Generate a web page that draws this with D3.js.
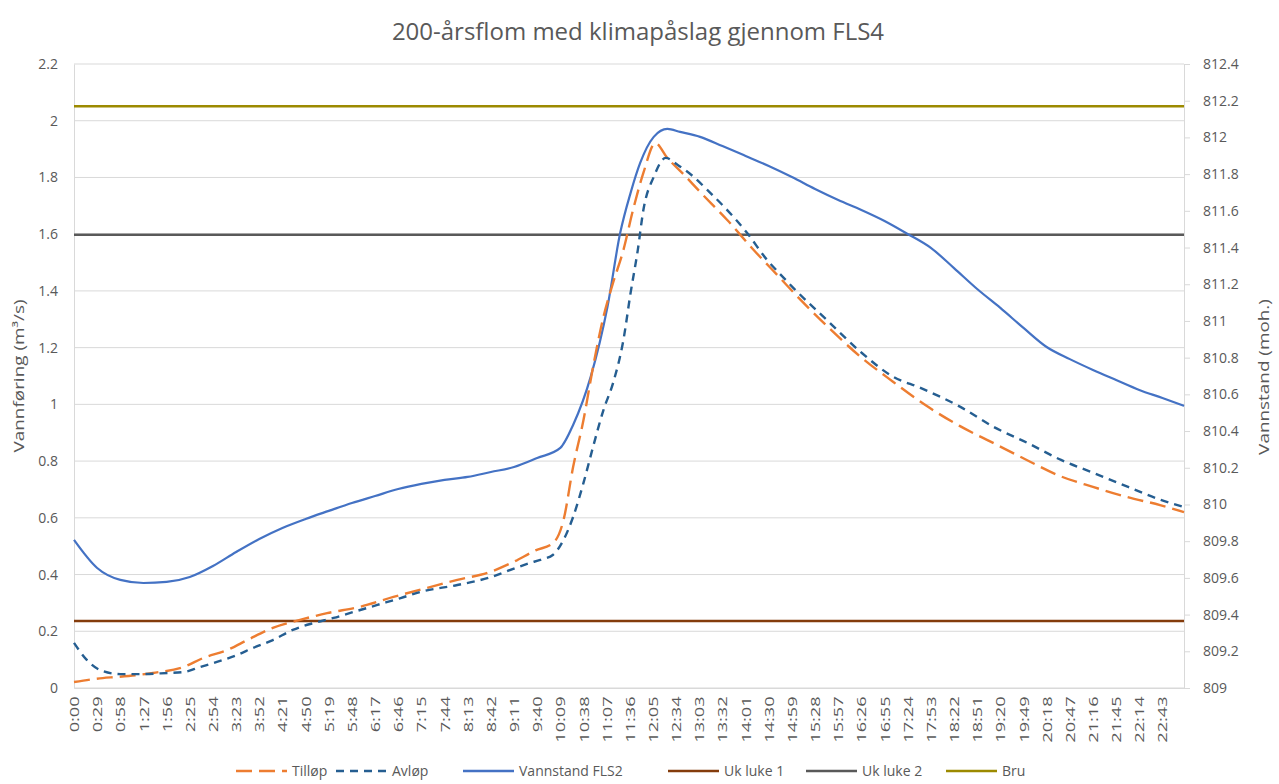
<!DOCTYPE html>
<html>
<head>
<meta charset="utf-8">
<script src="https://cdn.jsdelivr.net/npm/d3@7"></script>
<style>
  html, body { margin: 0; padding: 0; background: #fff; }
  svg { display: block; }
  text { font-family: "Open Sans", "Noto Sans", sans-serif; fill: #595959; }
</style>
</head>
<body>
<svg id="chart" width="1279" height="784"></svg>
<script>
// Time axis labels (every 29 minutes)
const tickLabels = ["0:00","0:29","0:58","1:27","1:56","2:25","2:54","3:23","3:52","4:21","4:50","5:19",
  "5:48","6:17","6:46","7:15","7:44","8:13","8:42","9:11","9:40","10:09","10:38","11:07","11:36",
  "12:05","12:34","13:03","13:32","14:01","14:30","14:59","15:28","15:57","16:26","16:55","17:24",
  "17:53","18:22","18:51","19:20","19:49","20:18","20:47","21:16","21:45","22:14","22:43"];
const timeEnd = 1390; // minutes after 0:00 at the last sample

// Tilløp (m³/s), minutes after 0:00
const tilopMin = [0,36,54,99,137,162,192,217,249,283,317,358,400,442,480,521,550,578,600,613,625,638,650,663,675,688,700,713,728,743,763,784,818,850,884,909,943,984,1026,1068,1109,1151,1193,1235,1276,1319,1360,1390];
const tilopVal = [0.021,0.035,0.039,0.053,0.074,0.106,0.134,0.169,0.212,0.240,0.264,0.286,0.321,0.353,0.381,0.409,0.444,0.485,0.511,0.592,0.779,0.945,1.132,1.308,1.428,1.544,1.685,1.816,1.921,1.869,1.812,1.749,1.650,1.548,1.446,1.371,1.276,1.170,1.079,0.994,0.924,0.864,0.804,0.747,0.709,0.673,0.645,0.620];

// Avløp (m³/s)
const avlopMin = [0,16,33,58,83,117,137,158,179,204,224,249,274,300,325,350,380,409,434,480,521,550,570,584,600,613,625,638,650,663,675,688,697,706,713,726,741,756,776,793,818,843,868,884,901,944,985,1026,1060,1110,1152,1194,1236,1277,1320,1361,1390];
const avlopVal = [0.159,0.099,0.063,0.049,0.049,0.053,0.056,0.074,0.092,0.116,0.141,0.169,0.205,0.229,0.247,0.268,0.293,0.317,0.339,0.363,0.390,0.420,0.440,0.452,0.470,0.522,0.603,0.723,0.850,0.980,1.075,1.227,1.393,1.544,1.685,1.802,1.869,1.844,1.802,1.756,1.685,1.604,1.509,1.460,1.410,1.294,1.185,1.097,1.058,0.991,0.920,0.864,0.804,0.758,0.709,0.663,0.638];

// Vannstand FLS2 (moh.)
const vannMin = [0,29,58,87,116,145,174,203,232,261,290,319,348,377,406,435,464,493,522,551,580,609,625,647,668,684,697,709,726,743,759,784,812,841,870,899,928,957,986,1015,1044,1073,1102,1131,1160,1189,1218,1247,1276,1305,1334,1363,1390];
const vannVal = [809.807,809.654,809.589,809.572,809.578,809.605,809.665,809.741,809.812,809.872,809.921,809.965,810.008,810.046,810.084,810.112,810.134,810.150,810.177,810.204,810.253,810.308,810.433,810.695,811.076,811.480,811.698,811.861,812.003,812.046,812.030,812.003,811.953,811.899,811.844,811.784,811.719,811.659,811.605,811.545,811.474,811.398,811.288,811.174,811.071,810.962,810.858,810.792,810.733,810.678,810.624,810.580,810.537];

// Reference levels (moh.)
const levelNames = ["Uk luke 1", "Uk luke 2", "Bru"];
const levelVals = [809.365, 811.47, 812.17];

const leftTicks = [0,0.2,0.4,0.6,0.8,1,1.2,1.4,1.6,1.8,2,2.2];
const rightTicks = [809,809.2,809.4,809.6,809.8,810,810.2,810.4,810.6,810.8,811,811.2,811.4,811.6,811.8,812,812.2,812.4];

const colors = {
  tilop: "#ED7D31", avlop: "#255E91", vann: "#4472C4",
  luke1: "#843C0C", luke2: "#595959", bru: "#9C8A00"
};

const svg = d3.select("#chart");
const plot = { left: 74, right: 1184, top: 64, bottom: 688 };

const x = d3.scaleLinear().domain([0, timeEnd]).range([plot.left, plot.right]);
const yL = d3.scaleLinear().domain([0, 2.2]).range([plot.bottom, plot.top]);
const yR = d3.scaleLinear().domain([809, 812.4]).range([plot.bottom, plot.top]);

const toMin = s => { const [h, m] = s.split(":").map(Number); return h * 60 + m; };

// Title
svg.append("text").attr("x", 638).attr("y", 40).attr("text-anchor", "middle")
  .style("font-size", "24px").text("200-årsflom med klimapåslag gjennom FLS4");

// Gridlines
svg.append("g").selectAll("line").data(leftTicks).join("line")
  .attr("x1", plot.left).attr("x2", plot.right)
  .attr("y1", d => yL(d)).attr("y2", d => yL(d))
  .attr("stroke", "#d9d9d9").attr("stroke-width", 1);

// Left axis
const gL = svg.append("g").attr("transform", `translate(${plot.left},0)`)
  .call(d3.axisLeft(yL).tickValues(leftTicks).tickSize(0).tickPadding(16).tickFormat(d3.format("~g")));
gL.select(".domain").attr("stroke", "#d9d9d9");
gL.selectAll("text").style("font-size", "14px").attr("fill", "#595959").style("font-family", "'Open Sans', sans-serif");

// Right axis
const gR = svg.append("g").attr("transform", `translate(${plot.right},0)`)
  .call(d3.axisRight(yR).tickValues(rightTicks).tickSize(6).tickPadding(13).tickFormat(d3.format("~g")));
gR.select(".domain").attr("stroke", "#d9d9d9");
gR.selectAll(".tick line").attr("stroke", "#d9d9d9");
gR.selectAll("text").style("font-size", "14px").attr("fill", "#595959").style("font-family", "'Open Sans', sans-serif");

// Bottom axis, labels stretched along the reading direction
const gB = svg.append("g").attr("transform", `translate(0,${plot.bottom})`)
  .call(d3.axisBottom(x).tickValues(tickLabels.map(toMin)).tickSize(0)
    .tickFormat((d, i) => tickLabels[i]));
gB.select(".domain").attr("stroke", "#d9d9d9");
gB.selectAll("text")
  .style("font-size", "13px").attr("fill", "#595959").style("font-family", "'Open Sans', sans-serif")
  .attr("transform", "rotate(-90) scale(1.4,1)")
  .attr("text-anchor", "end").attr("x", -6).attr("y", 0).attr("dy", "0.35em");

// Axis titles
svg.append("text").attr("transform", "translate(19,376) rotate(-90) scale(1.35,1)").attr("text-anchor", "middle")
  .attr("dy", "0.35em").style("font-size", "14px").text("Vannføring (m³/s)");
svg.append("text").attr("transform", "translate(1264,377) rotate(-90) scale(1.35,1)").attr("text-anchor", "middle")
  .attr("dy", "0.35em").style("font-size", "14px").text("Vannstand (moh.)");

// Reference level lines
const levelColors = [colors.luke1, colors.luke2, colors.bru];
svg.append("g").selectAll("line").data(levelVals).join("line")
  .attr("x1", x(0)).attr("x2", x(timeEnd))
  .attr("y1", d => yR(d)).attr("y2", d => yR(d))
  .attr("stroke", (d, i) => levelColors[i]).attr("stroke-width", 2.5);

// Series lines
const lineL = d3.line().x(d => x(d[0])).y(d => yL(d[1])).curve(d3.curveMonotoneX);
const lineR = d3.line().x(d => x(d[0])).y(d => yR(d[1])).curve(d3.curveMonotoneX);

svg.append("path").datum(d3.zip(vannMin, vannVal)).attr("d", lineR)
  .attr("fill", "none").attr("stroke", colors.vann).attr("stroke-width", 2.2);
svg.append("path").datum(d3.zip(tilopMin, tilopVal)).attr("d", lineL)
  .attr("fill", "none").attr("stroke", colors.tilop).attr("stroke-width", 2.4)
  .attr("stroke-dasharray", "16,7");
svg.append("path").datum(d3.zip(avlopMin, avlopVal)).attr("d", lineL)
  .attr("fill", "none").attr("stroke", colors.avlop).attr("stroke-width", 2.4)
  .attr("stroke-dasharray", "8,6");

// Legend
const legendItems = [
  { name: "Tilløp", color: colors.tilop, dash: "16,7", x: 236 },
  { name: "Avløp", color: colors.avlop, dash: "8,6", x: 336 },
  { name: "Vannstand FLS2", color: colors.vann, dash: null, x: 463 },
  { name: levelNames[0], color: colors.luke1, dash: null, x: 668 },
  { name: levelNames[1], color: colors.luke2, dash: null, x: 806 },
  { name: levelNames[2], color: colors.bru, dash: null, x: 946 }
];
const lg = svg.append("g").selectAll("g").data(legendItems).join("g")
  .attr("transform", d => `translate(${d.x},771)`);
lg.append("line").attr("x1", 0).attr("x2", 51).attr("y1", 0).attr("y2", 0)
  .attr("stroke", d => d.color).attr("stroke-width", 2.4)
  .attr("stroke-dasharray", d => d.dash);
lg.append("text").attr("x", 56).attr("y", 0).attr("dy", "0.35em")
  .style("font-size", "14px").text(d => d.name);
</script>
</body>
</html>
